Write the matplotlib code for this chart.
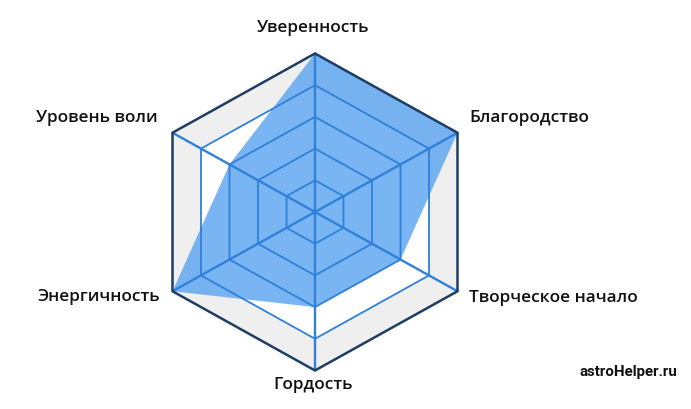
import numpy as np
import matplotlib
matplotlib.use("Agg")
import matplotlib.pyplot as plt
from matplotlib.patches import Polygon

categories = ["Уверенность", "Благородство", "Творческое начало",
              "Гордость", "Энергичность", "Уровень воли"]
values = [5, 5, 3, 3, 5, 3]
levels = [1, 2, 3, 4, 5]
watermark = "astroHelper.ru"

plt.rcParams['font.family'] = ['Open Sans', 'DejaVu Sans']

W, H = 691, 410
fig = plt.figure(figsize=(W / 100, H / 100), dpi=100)
ax = fig.add_axes([0, 0, 1, 1])
cx, cy = 315, 213
sx = 142.5 / (5 * np.cos(np.pi / 6))
sy = 158.5 / 5
ax.set_xlim(-cx / sx, (W - cx) / sx)
ax.set_ylim(-(H - cy) / sy, cy / sy)
ax.axis('off')

n = len(categories)
ang = np.pi / 2 - np.arange(n) * 2 * np.pi / n
ux, uy = np.cos(ang), np.sin(ang)

def ring(r):
    return np.column_stack([r * ux, r * uy])

grid_blue = '#2f80d8'
outer = ring(levels[-1])
inner = ring(levels[-2])
ax.add_patch(Polygon(outer, closed=True, facecolor='#efefef', edgecolor='none', zorder=1))
ax.add_patch(Polygon(inner, closed=True, facecolor='white', edgecolor='none', zorder=1))

v = np.array(values, dtype=float)
ax.add_patch(Polygon(np.column_stack([v * ux, v * uy]), closed=True,
                     facecolor='#62a8f1', alpha=0.85, edgecolor='none', zorder=2))

for r in levels[:-1]:
    ax.add_patch(Polygon(ring(r), closed=True, fill=False, edgecolor=grid_blue,
                         lw=1.3, zorder=3))
for i in range(n):
    ax.plot([0, levels[-1] * ux[i]], [0, levels[-1] * uy[i]], color=grid_blue,
            lw=1.7, zorder=3, solid_capstyle='butt')
ax.add_patch(Polygon(outer, closed=True, fill=False, edgecolor='#1d3d63',
                     lw=1.8, zorder=4, joinstyle='miter'))

lab_px = [(313, 28, 'center'), (469, 118, 'left'), (469, 298, 'left'),
          (313, 385, 'center'), (160, 297, 'right'), (158, 118, 'right')]
for (px, py, ha), lab in zip(lab_px, categories):
    ax.text((px - cx) / sx, (cy - py) / sy, lab, ha=ha, va='center',
            fontsize=12.4, fontweight='semibold', color='#111111', zorder=5)

ax.text((677 - cx) / sx, (cy - 372) / sy, watermark, ha='right', va='center',
        fontsize=10.8, fontweight='bold', color='#111111',
        family=['Roboto', 'DejaVu Sans'], fontstretch='condensed')

fig.savefig('out.png', dpi=100, facecolor='white')
